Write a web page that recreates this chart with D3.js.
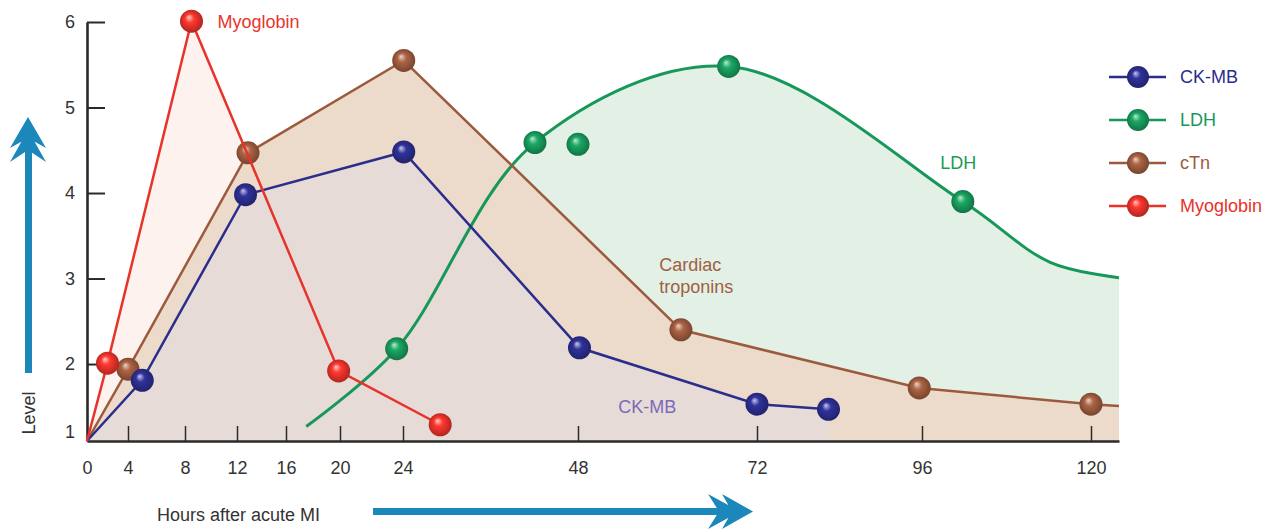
<!DOCTYPE html>
<html>
<head>
<meta charset="utf-8">
<script src="https://cdn.jsdelivr.net/npm/d3@7"></script>
<style>
  body { margin: 0; background: #fff; }
  svg { display: block; font-family: "Liberation Sans", Arial, sans-serif; }
</style>
</head>
<body>
<div id="chart"></div>
<script>
// hours on the (uneven) x axis and the levels on y
var xTicks = [0, 4, 8, 12, 16, 20, 24, 48, 72, 96, 120];
var yTicks = [1, 2, 3, 4, 5, 6];
var xMax = 124, yBase = 1.1;

// series values: [hours, level]
var ckmb = [[0, 1.1], [5, 1.81], [12.7, 3.98], [24.1, 4.48], [48.2, 2.19], [72, 1.53], [82.4, 1.47]];
var ctn = [[0, 1.1], [4, 1.94], [12.9, 4.47], [24.1, 5.55], [61.8, 2.40], [95.6, 1.72], [120, 1.53], [124, 1.51]];
var myoglobin = [[0, 1.1], [2, 2.01], [8.5, 6.01], [19.9, 1.92], [29.1, 1.29]];
var ldhCurve = [[17.5, 1.27], [23.6, 2.18], [42.1, 4.59], [68.2, 5.48],
                [101.8, 3.90], [114.2, 3.19], [124, 3.01]];
var ldhPoints = [[23.6, 2.18], [42.1, 4.59], [48, 4.57], [68.2, 5.48], [101.8, 3.90]];

var legendNames = ["CK-MB", "LDH", "cTn", "Myoglobin"];
var colors = { "CK-MB": "#2b2d8c", "LDH": "#17985a", "cTn": "#9c5a3d", "Myoglobin": "#e8322a" };

var width = 1285, height = 532;
var svg = d3.select("#chart").append("svg")
    .attr("width", width)
    .attr("height", height);

// piecewise x scale, the picture stretches the first day
var x = d3.scaleLinear()
    .domain([0, 4, 8, 12, 16, 20, 24, 48, 72, 96, 120, xMax])
    .range([87, 128, 185, 237, 286, 340, 403, 578, 757, 922, 1091, 1119]);
var y = d3.scaleLinear().domain([yBase, 6]).range([441, 22]);

// ball gradients
var defs = svg.append("defs");
legendNames.forEach(function(name, i) {
    var c = d3.color(colors[name]);
    var g = defs.append("radialGradient")
        .attr("id", "ball" + i)
        .attr("cx", "0.5").attr("cy", "0.5").attr("r", "0.55")
        .attr("fx", "0.38").attr("fy", "0.32");
    g.append("stop").attr("offset", "0%").attr("stop-color", d3.interpolateRgb(c, "#fff")(0.75));
    g.append("stop").attr("offset", "35%").attr("stop-color", c.brighter(0.3));
    g.append("stop").attr("offset", "100%").attr("stop-color", c.darker(0.9));
});
function ballFill(name) { return "url(#ball" + legendNames.indexOf(name) + ")"; }

var smooth = d3.curveCatmullRom.alpha(0.5);
var area = d3.area()
    .x(function(d) { return x(d[0]); })
    .y0(y(yBase))
    .y1(function(d) { return y(d[1]); });
var line = d3.line()
    .x(function(d) { return x(d[0]); })
    .y(function(d) { return y(d[1]); });

// fills, back to front
svg.append("path").attr("d", area(myoglobin)).attr("fill", "#fdf2ee");
svg.append("path").attr("d", area.curve(smooth)(ldhCurve)).attr("fill", "#e2f0e6");
area.curve(d3.curveLinear);
svg.append("path").attr("d", area(ctn)).attr("fill", "#ecdacb");
svg.append("path").attr("d", area(ckmb)).attr("fill", "#e7dbd8");

// axes
var xAxis = svg.append("g")
    .attr("transform", "translate(0," + y(yBase) + ")")
    .call(d3.axisBottom(x).tickValues(xTicks).tickSizeInner(-15).tickSizeOuter(0).tickPadding(20));
var yAxis = svg.append("g")
    .attr("transform", "translate(" + x(0) + ",0)")
    .call(d3.axisLeft(y).tickValues(yTicks).tickFormat(d3.format("d"))
        .tickSizeInner(-18).tickSizeOuter(0).tickPadding(12));

[xAxis, yAxis].forEach(function(ax) {
    ax.select(".domain").attr("stroke", "#2a2a2a").attr("stroke-width", 2.6);
    ax.selectAll(".tick line").attr("stroke", "#2a2a2a").attr("stroke-width", 2);
    ax.selectAll(".tick text").attr("fill", "#333").style("font-size", "18px")
        .style("font-family", "'Liberation Sans', Arial, sans-serif");
});
xAxis.selectAll(".tick line").attr("stroke-width", 1.5);
xAxis.selectAll(".tick").filter(function(d) { return d === 0; }).select("line").remove();
yAxis.selectAll(".tick").filter(function(d) { return d === 1; })
    .attr("transform", "translate(0," + (y(yBase) - 9) + ")")
    .select("line").remove();

// lines and balls
var r = 11.5;
function drawSeries(name, lineData, pts, curve) {
    svg.append("path")
        .attr("d", line.curve(curve || d3.curveLinear)(lineData))
        .attr("fill", "none")
        .attr("stroke", colors[name])
        .attr("stroke-width", name === "LDH" ? 3 : 2.5);
    svg.append("g").selectAll("circle")
        .data(pts)
        .enter().append("circle")
        .attr("cx", function(d) { return x(d[0]); })
        .attr("cy", function(d) { return y(d[1]); })
        .attr("r", r)
        .attr("fill", ballFill(name));
}
drawSeries("LDH", ldhCurve, ldhPoints, smooth);
drawSeries("cTn", ctn, ctn.slice(1, 7));
drawSeries("CK-MB", ckmb, ckmb.slice(1));
drawSeries("Myoglobin", myoglobin, myoglobin.slice(1));

// labels in the plot
var notes = [
    {text: ["Myoglobin"], h: 10.5, v: 6.0, color: "#e8352b"},
    {text: ["LDH"], h: 98.6, v: 4.36, color: "#1e9a55"},
    {text: ["Cardiac", "troponins"], h: 58.9, v: 3.16, color: "#a0603f"},
    {text: ["CK-MB"], h: 53.4, v: 1.5, color: "#7a6ab8"}
];
notes.forEach(function(n) {
    var t = svg.append("text")
        .attr("x", x(n.h))
        .attr("y", y(n.v))
        .attr("fill", n.color)
        .style("font-size", "18px");
    n.text.forEach(function(s, i) {
        t.append("tspan").attr("x", x(n.h)).attr("dy", i === 0 ? "0.35em" : "1.2em").text(s);
    });
});

// legend
var legend = svg.append("g").attr("transform", "translate(1109,77)");
var row = legend.selectAll("g").data(legendNames).enter().append("g")
    .attr("transform", function(d, i) { return "translate(0," + (i * 43) + ")"; });
row.append("line").attr("x1", 0).attr("x2", 57)
    .attr("stroke", function(d) { return colors[d]; }).attr("stroke-width", 2.5);
row.append("circle").attr("cx", 29).attr("r", 11).attr("fill", ballFill);
row.append("text").attr("x", 71).attr("dy", "0.35em")
    .attr("fill", function(d) { return colors[d]; })
    .style("font-size", "18px")
    .text(function(d) { return d; });

// axis titles with the blue arrows
var blue = "#1b87ba";
svg.append("text")
    .attr("transform", "translate(35,413) rotate(-90)")
    .attr("text-anchor", "middle")
    .attr("fill", "#333")
    .style("font-size", "18px")
    .text("Level");
svg.append("rect").attr("x", 25).attr("y", 138).attr("width", 7).attr("height", 235).attr("fill", blue);
svg.append("path").attr("fill", blue)
    .attr("d", "M28,117 L46,148 L28,138 L10,148 Z M28,130 L46,162 L28,150 L10,162 Z");

svg.append("text")
    .attr("x", 157).attr("y", 521)
    .attr("fill", "#333")
    .style("font-size", "18px")
    .text("Hours after acute MI");
svg.append("rect").attr("x", 373).attr("y", 508).attr("width", 350).attr("height", 7).attr("fill", blue);
svg.append("path").attr("fill", blue)
    .attr("d", "M753,511.5 L722,494 L732,511.5 L722,529 Z M740,511.5 L708,494 L719,511.5 L708,529 Z");
</script>
</body>
</html>
